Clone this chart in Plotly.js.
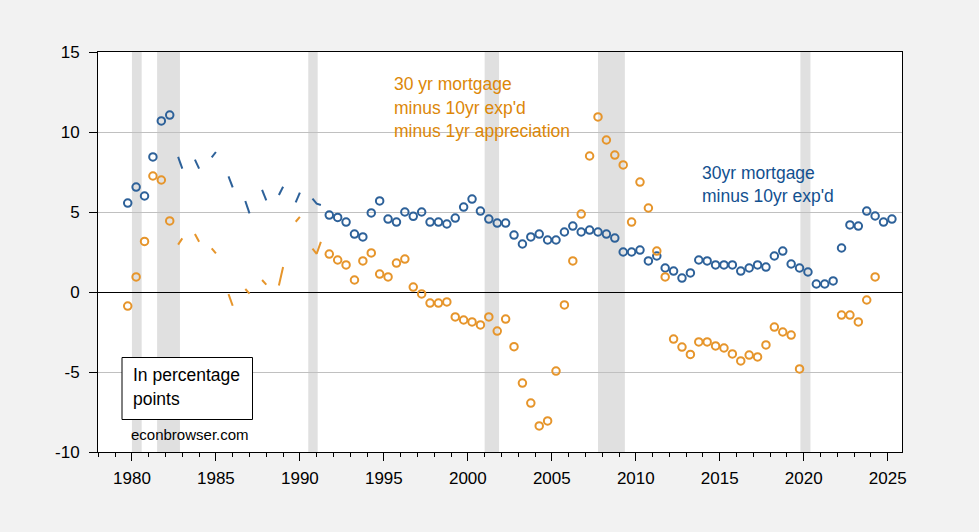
<!DOCTYPE html>
<html>
<head>
<meta charset="utf-8">
<script src="https://cdn.plot.ly/plotly-3.0.1.min.js"></script>
<style>html,body{margin:0;padding:0;background:#f2f2f2;}#chart{width:979px;height:532px;}</style>
</head>
<body>
<div id="chart"></div>
<script>
// Observation quarters (survey dates)
const quarters = ["1979Q4","1980Q2","1980Q4","1981Q2","1981Q4","1982Q2","1982Q4","1983Q1","1983Q4","1984Q1",
"1984Q4","1985Q1","1985Q4","1986Q1","1986Q4","1987Q1","1987Q4","1988Q1","1988Q4","1989Q1",
"1989Q4","1990Q1","1990Q4","1991Q1","1991Q2","1991Q4","1992Q2","1992Q4","1993Q2","1993Q4",
"1994Q2","1994Q4","1995Q2","1995Q4","1996Q2","1996Q4","1997Q2","1997Q4","1998Q2","1998Q4",
"1999Q2","1999Q4","2000Q2","2000Q4","2001Q2","2001Q4","2002Q2","2002Q4","2003Q2","2003Q4",
"2004Q2","2004Q4","2005Q2","2005Q4","2006Q2","2006Q4","2007Q2","2007Q4","2008Q2","2008Q4",
"2009Q2","2009Q4","2010Q2","2010Q4","2011Q2","2011Q4","2012Q2","2012Q4","2013Q2","2013Q4",
"2014Q2","2014Q4","2015Q2","2015Q4","2016Q2","2016Q4","2017Q2","2017Q4","2018Q2","2018Q4",
"2019Q2","2019Q4","2020Q2","2020Q4","2021Q2","2021Q4","2022Q2","2022Q4","2023Q2","2023Q4",
"2024Q2","2024Q4","2025Q2"];

// 30yr mortgage minus 10yr expected inflation
const mortMinusExp = [5.56,6.56,6.0,8.44,10.69,11.06,8.44,7.71,8.27,7.71,
8.41,8.75,7.22,6.54,5.69,4.91,6.39,5.73,6.06,6.58,
5.6,6.21,5.83,5.52,5.44,4.81,4.66,4.37,3.62,3.44,
4.94,5.69,4.56,4.37,5.0,4.73,5.0,4.37,4.37,4.25,
4.62,5.31,5.81,5.06,4.56,4.31,4.31,3.56,3.0,3.44,
3.62,3.25,3.25,3.75,4.12,3.75,3.87,3.75,3.62,3.37,
2.5,2.5,2.62,1.94,2.25,1.5,1.31,0.87,1.19,2.0,
1.94,1.69,1.69,1.69,1.31,1.5,1.69,1.56,2.25,2.56,
1.75,1.5,1.25,0.5,0.5,0.69,2.75,4.19,4.12,5.06,
4.75,4.37,4.56];

// 30yr mortgage minus 10yr expected inflation minus 1yr house price appreciation
const mortMinusExpMinusApp = [-0.88,0.94,3.16,7.25,7.0,4.44,2.96,3.35,3.63,3.14,
2.73,2.41,-0.13,-0.86,0.19,-0.1,0.75,0.46,0.41,1.56,
4.39,4.7,2.71,2.39,3.13,2.37,2.0,1.69,0.75,1.94,
2.44,1.12,0.94,1.81,2.06,0.31,-0.12,-0.69,-0.69,-0.62,
-1.56,-1.75,-1.87,-2.06,-1.56,-2.44,-1.69,-3.42,-5.69,-6.94,
-8.37,-8.06,-4.94,-0.81,1.94,4.87,8.5,10.94,9.5,8.56,
7.94,4.37,6.87,5.25,2.56,0.94,-2.94,-3.44,-3.9,-3.12,
-3.12,-3.37,-3.5,-3.87,-4.31,-3.94,-4.06,-3.31,-2.19,-2.5,
-2.69,-4.81,null,null,null,null,-1.44,-1.44,-1.87,-0.5,
0.94,null,null];

// NBER recessions (decimal years)
const recStart = [1980.0, 1981.5, 1990.5, 2001.0, 2007.75, 2019.8];
const recEnd   = [1980.58, 1982.86, 1991.06, 2001.86, 2009.35, 2020.4];

const xTickVals = [1980,1985,1990,1995,2000,2005,2010,2015,2020,2025];
const xTickText = ["1980","1985","1990","1995","2000","2005","2010","2015","2020","2025"];
const yTickVals = [-10,-5,0,5,10,15];
const yTickText = ["-10","-5","0","5","10","15"];

function qIndex(q){ return parseInt(q.slice(0,4))*4 + parseInt(q.slice(5)) - 1; }
function qToYear(q){ return parseInt(q.slice(0,4)) + (parseInt(q.slice(5)) - 1)/4; }

function split(vals){
  const n = quarters.length;
  const lx=[], ly=[], mx=[], my=[];
  for(let i=0;i<n;i++){
    if(vals[i]===null) continue;
    const qi = qIndex(quarters[i]);
    const prevOk = i>0 && vals[i-1]!==null && qIndex(quarters[i-1])===qi-1;
    const nextOk = i<n-1 && vals[i+1]!==null && qIndex(quarters[i+1])===qi+1;
    if(prevOk||nextOk){
      if(!prevOk && lx.length){ lx.push(null); ly.push(null); }
      lx.push(qToYear(quarters[i])); ly.push(vals[i]);
    } else {
      mx.push(qToYear(quarters[i])); my.push(vals[i]);
    }
  }
  return {lx,ly,mx,my};
}

const blueC = "#2d6199", orangeC = "#e6952b";
const b = split(mortMinusExp), o = split(mortMinusExpMinusApp);

const traces = [
  {x:b.lx, y:b.ly, type:"scatter", mode:"lines", line:{color:blueC,width:2}, connectgaps:false, hoverinfo:"skip"},
  {x:b.mx, y:b.my, type:"scatter", mode:"markers", marker:{symbol:"circle-open", size:7.5, color:blueC, line:{width:2,color:blueC}}},
  {x:o.lx, y:o.ly, type:"scatter", mode:"lines", line:{color:orangeC,width:2}, connectgaps:false, hoverinfo:"skip"},
  {x:o.mx, y:o.my, type:"scatter", mode:"markers", marker:{symbol:"circle-open", size:7.5, color:orangeC, line:{width:2,color:orangeC}}}
];

const shapes = recStart.map((s,i)=>({type:"rect", xref:"x", yref:"paper", x0:s, x1:recEnd[i], y0:0, y1:1, fillcolor:"#e0e0e0", line:{width:0}, layer:"below"}));
// legend-ish box
const L=98, T=52, W=804, H=400;
const px = v => (v-L)/W, py = v => (T+H-v)/H;
shapes.push({type:"rect", xref:"paper", yref:"paper", x0:px(122), x1:px(252.5), y0:py(419.5), y1:py(357.5), line:{color:"#000",width:1}, fillcolor:"#ffffff", layer:"above"});

const fnt = "Liberation Sans, Arial, sans-serif";
const orangeT = "#dc8708", blueT = "#12508f";
function ann(text, x, yBase, color, size){
  return {xref:"paper", yref:"paper", x:px(x), y:py(yBase - size*0.36), xanchor:"left", yanchor:"middle", text:text, showarrow:false, font:{family:fnt, size:size, color:color}};
}
const annotations = [
  ann("30 yr mortgage", 391.5, 90.7, orangeT, 17.5),
  ann("minus 10yr exp'd", 391.5, 114.2, orangeT, 17.5),
  ann("minus 1yr appreciation", 391.5, 137.7, orangeT, 17.5),
  ann("30yr mortgage", 699.5, 179, blueT, 17.5),
  ann("minus 10yr exp'd", 699.5, 202.7, blueT, 17.5),
  ann("In percentage", 131, 381.7, "#000", 17.5),
  ann("points", 131, 405.2, "#000", 17.5),
  ann("econbrowser.com", 129, 440, "#000", 15)
];

const layout = {
  width:979, height:532,
  margin:{l:L, r:979-L-W, t:T, b:532-T-H, pad:0},
  paper_bgcolor:"#f2f2f2", plot_bgcolor:"#ffffff",
  showlegend:false,
  font:{family:fnt, size:17, color:"#000"},
  xaxis:{range:[1977.98,2025.85], tickmode:"array", tickvals:xTickVals, ticktext:xTickText,
    ticks:"outside", ticklen:8, tickwidth:1, tickcolor:"#000", showgrid:false, zeroline:false,
    showline:true, linecolor:"#000", linewidth:1, mirror:true, ticklabelstandoff:3,
    tickfont:{family:fnt,size:17,color:"#000"},
    minor:{tickmode:"linear", tick0:1978, dtick:1, ticks:"outside", ticklen:4, tickcolor:"#000", showgrid:false}},
  yaxis:{range:[-10,15], tickmode:"array", tickvals:yTickVals, ticktext:yTickText,
    ticks:"outside", ticklen:8, tickwidth:1, tickcolor:"#000", showgrid:true, gridcolor:"#c0c0c0", gridwidth:1,
    zeroline:true, zerolinecolor:"#000", zerolinewidth:1,
    showline:true, linecolor:"#000", linewidth:1, mirror:true, ticklabelstandoff:6,
    tickfont:{family:fnt,size:17,color:"#000"}},
  shapes:shapes, annotations:annotations
};

Plotly.newPlot("chart", traces, layout, {displayModeBar:false, staticPlot:true});
</script>
</body>
</html>
